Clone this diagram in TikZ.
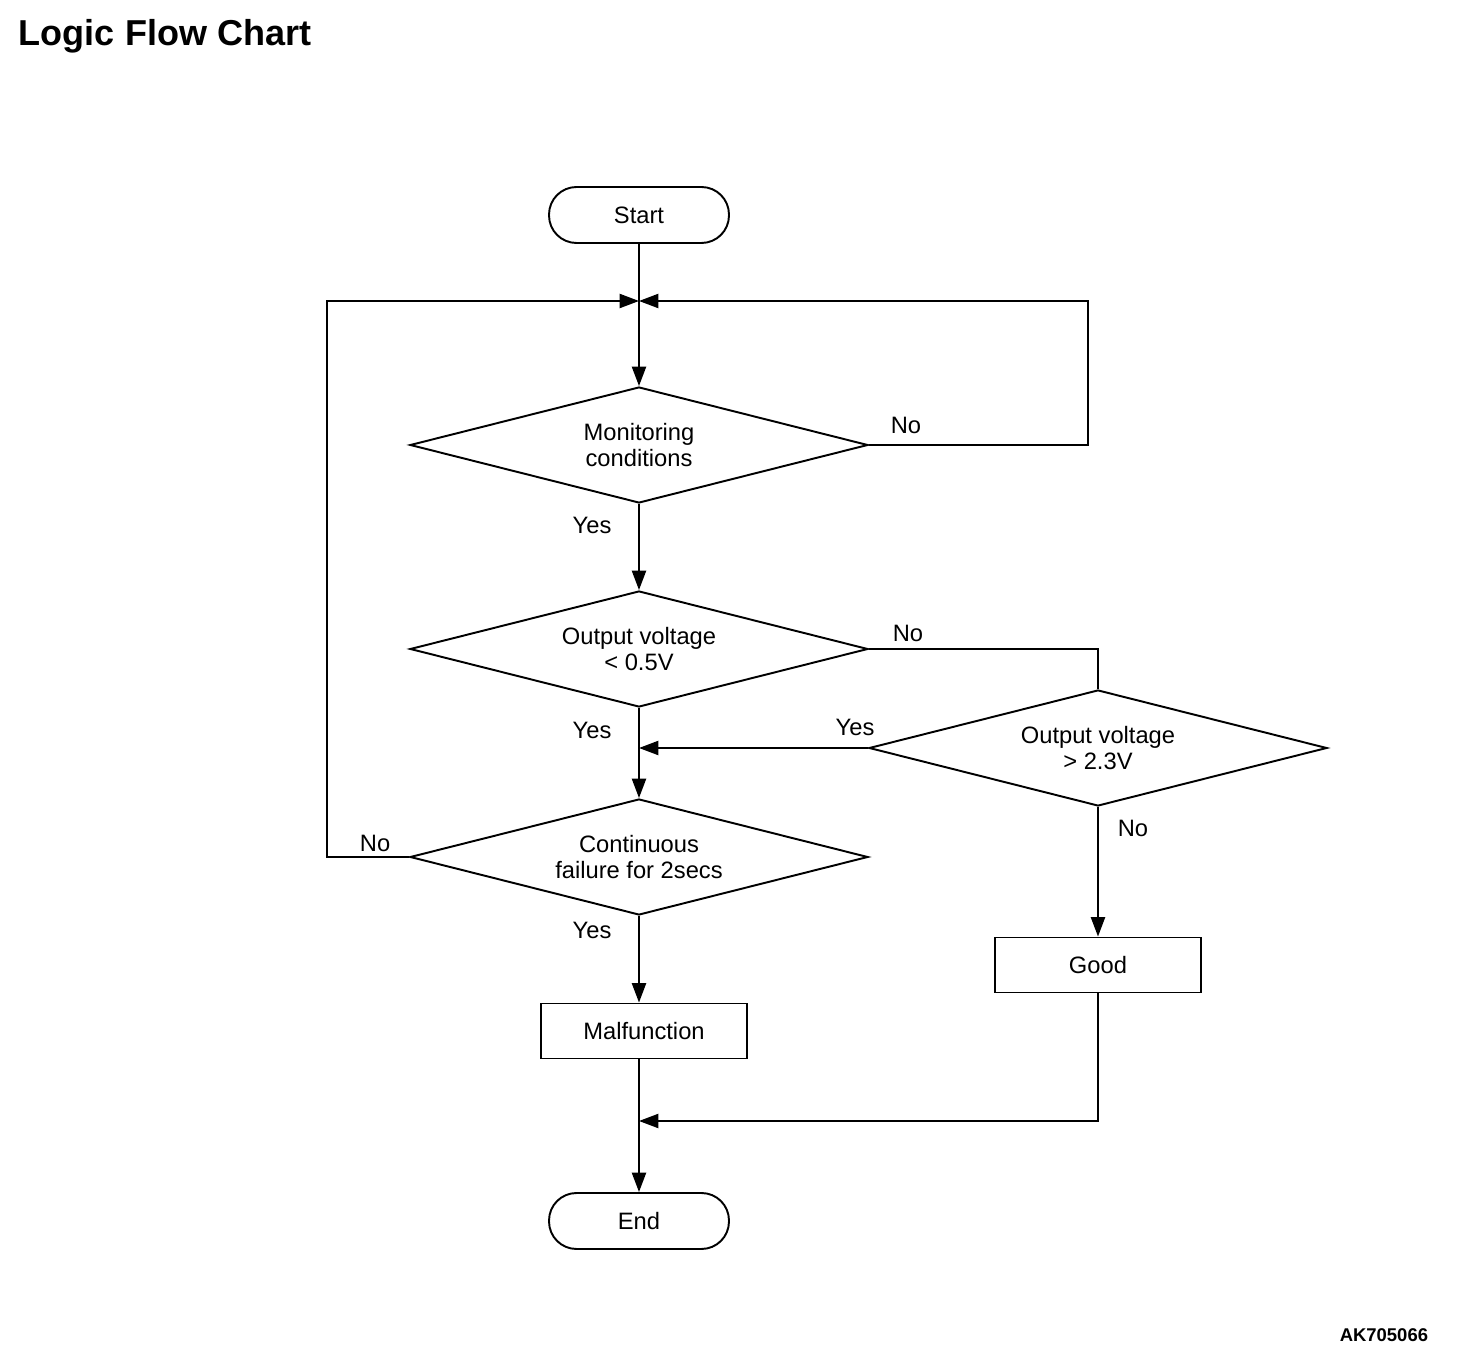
\documentclass[tikz,border=0pt]{standalone}
\usepackage{fontspec}
\setmainfont{Liberation Sans}
\usetikzlibrary{shapes.geometric,arrows.meta}

\begin{document}
\begin{tikzpicture}[x=0.02cm,y=-0.02cm,line width=1.1pt,
  txt/.style={font=\fontsize{13.5}{14.5}\selectfont},
  term/.style={draw,rounded corners=0.55cm,minimum width=3.6cm,minimum height=1.12cm,txt},
  decide/.style={draw,shape=diamond,shape aspect=3.95,minimum width=9.16cm,minimum height=2.32cm,inner sep=0pt,align=center,txt},
  proc/.style={draw,shape=rectangle,minimum width=4.12cm,minimum height=1.1cm,txt},
  lbl/.style={txt,inner sep=0pt},
  arr/.style={-{Triangle[length=11pt,width=8pt]}}]
\useasboundingbox (0,0) rectangle (1472,1364);

\path (18,46) node[anchor=base west,inner sep=0pt,font=\fontsize{20.5}{24}\selectfont\bfseries] (title) {Logic Flow Chart};
\path (1429,1341) node[anchor=base east,inner sep=0pt,font=\fontsize{10.5}{12}\selectfont\bfseries] (code) {AK705066};

\path (639,215) node[term] (S) {Start};
\path (639,445) node[decide] (D1) {Monitoring\\conditions};
\path (639,649) node[decide] (D2) {Output voltage\\\textless{} 0.5V};
\path (1098,748) node[decide] (D4) {Output voltage\\\textgreater{} 2.3V};
\path (639,857) node[decide] (D3) {Continuous\\failure for 2secs};
\path (644,1031) node[proc] (M) {Malfunction};
\path (1098,965) node[proc] (G) {Good};
\path (639,1221) node[term] (E) {End};

\coordinate (J1) at (639,301);
\coordinate (J2) at (639,748);
\coordinate (J3) at (639,1121);

% main line
\draw (S) -- (J1);
\draw[arr] (J1) -- (D1);
\draw[arr] (D1) -- node[lbl,pos=0,xshift=-0.94cm,yshift=-0.44cm] {Yes} (D2);
\draw[arr] (D2) -- node[lbl,pos=0,xshift=-0.94cm,yshift=-0.46cm] {Yes} (D3);
\draw[arr] (D3) -- node[lbl,pos=0,xshift=-0.94cm,yshift=-0.3cm] {Yes} (M.north -| D3.south);
\draw[arr] (M.south -| E.north) -- (E);

% loops back
\draw[arr] (D1.east) -- node[lbl,pos=0,xshift=0.74cm,yshift=0.4cm] {No} (1088,445) |- (J1);
\draw[arr] (D3.west) -- node[lbl,pos=0,xshift=-0.68cm,yshift=0.28cm] {No} (327,857) |- (J1);

% second check
\draw (D2.east) -- node[lbl,pos=0,xshift=0.78cm,yshift=0.32cm] {No} (D2.east -| D4.north) -- (D4.north);
\draw[arr] (D4.west) -- node[lbl,pos=0,xshift=-0.26cm,yshift=0.42cm] {Yes} (J2);
\draw[arr] (D4.south) -- node[lbl,pos=0,xshift=0.7cm,yshift=-0.44cm] {No} (G);
\draw[arr] (G.south) |- (J3);
\end{tikzpicture}
\end{document}
